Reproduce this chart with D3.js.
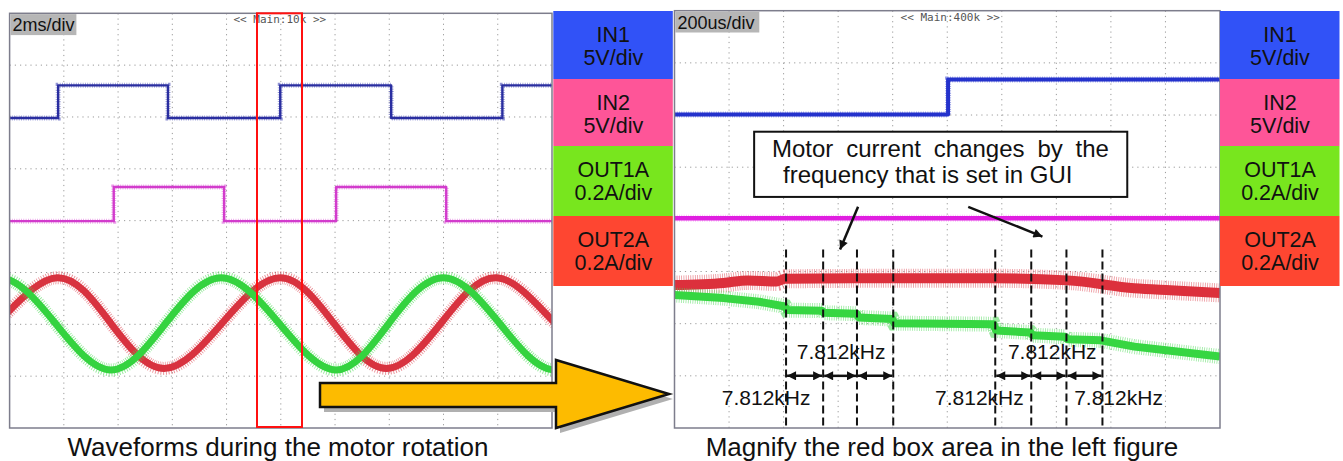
<!DOCTYPE html>
<html>
<head>
<meta charset="utf-8">
<script src="https://cdn.jsdelivr.net/npm/d3@7"></script>
<style>
  body { margin: 0; background: #fff; }
  svg { display: block; font-family: "Liberation Sans", Arial, sans-serif; }
</style>
</head>
<body>
<script>
// ---- values read off the two scope captures ----
// left capture: time in ms (2ms/div, 10 div), level in divisions from the bottom (8 div)
var leftIn1 = [[0, 5.98], [1.79, 6.61], [5.84, 5.98], [9.98, 6.61], [14.07, 5.98], [18.17, 6.61], [20, 6.61]];
var leftIn2 = [[0, 3.99], [3.84, 4.65], [7.91, 3.99], [12.04, 4.65], [16.1, 3.99], [20, 3.99]];
// peaks, troughs and mid crossings of the two motor currents
var leftOut2 = [[-2.5, 1.15], [-0.45, 2.03], [1.75, 2.9], [3.72, 2.03], [5.7, 1.15], [7.85, 2.03], [9.98, 2.9],
                [11.94, 2.03], [13.89, 1.15], [15.92, 2.03], [17.95, 2.9], [20.1, 2.03], [22.1, 1.15]];
var leftOut1 = [[-2.45, 2.03], [-0.4, 2.9], [1.67, 2.03], [3.74, 1.12], [5.77, 2.03], [7.8, 2.9], [9.92, 2.03],
                [12.04, 1.12], [14.0, 2.03], [15.99, 2.9], [18.05, 2.03], [20.1, 1.12], [22.1, 2.03]];

// right capture: time in us (200us/div)
var rightIn1 = [[0, 6.01], [1003, 6.68], [2000, 6.68]];
var rightIn2 = [[0, 4.02], [2000, 4.02]];
var rightOut2 = [[0, 2.74], [180, 2.78], [269, 2.83], [376, 2.81], [405, 2.86], [798, 2.87], [1169, 2.87],
                 [1441, 2.83], [1686, 2.68], [1818, 2.64], [2000, 2.59]];
var rightOut1 = [[0, 2.55], [180, 2.49], [310, 2.42], [405, 2.33], [413, 2.26], [541, 2.25], [547, 2.21],
                 [668, 2.19], [676, 2.12], [798, 2.09], [806, 2.01], [1169, 1.99], [1179, 1.87], [1305, 1.83],
                 [1313, 1.78], [1432, 1.75], [1441, 1.7], [1562, 1.68], [1686, 1.56], [1818, 1.48], [2000, 1.37]];

// PWM period marks (us) and the 7.812kHz labels
var pwmMarks = [409, 545, 669, 802, 1176, 1308, 1437, 1569];
var pwmGroups = [[0, 1, 2, 3], [4, 5, 6, 7]];
var freqText = "7.812kHz";
var freqLabels = [[611, "upper"], [336, "lower"], [1385, "upper"], [1118, "lower"], [1628, "lower"]];

// legend
var channels = ["IN1", "IN2", "OUT1A", "OUT2A"];
var channelScales = ["5V/div", "5V/div", "0.2A/div", "0.2A/div"];
var channelColors = ["#3152f7", "#fe5598", "#78e61e", "#fe4631"];

var captions = ["Waveforms during the motor rotation", "Magnify the red box area in the left figure"];
var annotationLines = ["Motor current changes by the", "frequency that is set in GUI"];

// ---- page ----
var svgWidth = 1343, svgHeight = 461;
var svg = d3.select("body").append("svg")
  .attr("width", svgWidth)
  .attr("height", svgHeight);

var defs = svg.append("defs");

// scales for both captures
var xL = d3.scaleLinear().domain([0, 20]).range([9.6, 552]);
var yL = d3.scaleLinear().domain([0, 8]).range([428, 13.3]);
var xR = d3.scaleLinear().domain([0, 2000]).range([674.5, 1220]);
var yR = d3.scaleLinear().domain([0, 8]).range([428, 10.7]);

function drawScope(id, x, y, label, mainText, labelWidth, mainShift) {
  var g = svg.append("g");
  var x0 = x.range()[0], x1 = x.range()[1], y0 = y.range()[1], y1 = y.range()[0];

  defs.append("clipPath").attr("id", id)
    .append("rect").attr("x", x0).attr("y", y0).attr("width", x1 - x0).attr("height", y1 - y0);

  g.append("rect")
    .attr("x", x0).attr("y", y0).attr("width", x1 - x0).attr("height", y1 - y0)
    .attr("fill", "#fff");

  // dotted division grid
  var xt = x.ticks(10).slice(1, -1);
  var yt = y.ticks(8).slice(1, -1);
  g.selectAll(".vg").data(xt).enter().append("line")
    .attr("x1", d => x(d)).attr("x2", d => x(d))
    .attr("y1", y0).attr("y2", y1)
    .attr("stroke", "#9a9a9a").attr("stroke-width", 1).attr("stroke-dasharray", "1.2,4");
  g.selectAll(".hg").data(yt).enter().append("line")
    .attr("x1", x0).attr("x2", x1)
    .attr("y1", d => y(d)).attr("y2", d => y(d))
    .attr("stroke", "#9a9a9a").attr("stroke-width", 1).attr("stroke-dasharray", "1.2,4");

  g.append("text")
    .attr("x", (x0 + x1) / 2 + mainShift).attr("y", y0 + 10)
    .attr("text-anchor", "middle")
    .attr("font-family", "DejaVu Sans Mono, monospace")
    .attr("font-size", 11).attr("fill", "#555")
    .text(mainText);

  var traces = g.append("g").attr("clip-path", "url(#" + id + ")");

  g.append("rect")
    .attr("x", x0).attr("y", y0).attr("width", x1 - x0).attr("height", y1 - y0)
    .attr("fill", "none").attr("stroke", "#7d7d8c").attr("stroke-width", 1.5);

  g.append("rect")
    .attr("x", x0 + 0.8).attr("y", y0 + 0.8).attr("width", labelWidth).attr("height", 21)
    .attr("fill", "#b6b6b6");
  g.append("text")
    .attr("x", x0 + 3).attr("y", y0 + 18)
    .attr("font-size", 18).attr("fill", "#111")
    .text(label);

  return traces;
}

function trace(g, data, x, y, curve, color, width, fuzzColor, fuzzWidth) {
  var line = d3.line().x(d => x(d[0])).y(d => y(d[1])).curve(curve);
  if (fuzzWidth) {
    g.append("path").datum(data).attr("d", line)
      .attr("fill", "none").attr("stroke", fuzzColor).attr("stroke-width", fuzzWidth)
      .attr("stroke-dasharray", "0.8,1.5").attr("opacity", 0.6);
  }
  g.append("path").datum(data).attr("d", line)
    .attr("fill", "none").attr("stroke", color).attr("stroke-width", width)
    .attr("stroke-linejoin", "round");
}

// left capture
var tl = drawScope("clipL", xL, yL, "2ms/div", "<< Main:10k >>", 66, -1);
trace(tl, leftIn1, xL, yL, d3.curveStepAfter, "#2a2ea0", 2.4, "#4a4eb8", 5);
trace(tl, leftIn2, xL, yL, d3.curveStepAfter, "#d23ccc", 2.4, "#dc5cd8", 5);
trace(tl, leftOut2, xL, yL, d3.curveNatural, "#d8323f", 7, "#dc4450", 13);
trace(tl, leftOut1, xL, yL, d3.curveNatural, "#34d33f", 7, "#48d852", 13);

// right capture
var tr = drawScope("clipR", xR, yR, "200us/div", "<< Main:400k >>", 84, 3);
trace(tr, rightIn1, xR, yR, d3.curveStepAfter, "#2432cc", 4, "#4854d4", 6);
trace(tr, rightIn2, xR, yR, d3.curveLinear, "#e01ee0", 4.5, "#f080f0", 7);
trace(tr, rightOut2, xR, yR, d3.curveMonotoneX, "#dc303c", 10, "#e04c58", 19);
trace(tr, rightOut1, xR, yR, d3.curveLinear, "#36d642", 8, "#52dc5c", 15);

// red box marking the magnified area
svg.append("rect")
  .attr("x", 257).attr("y", yL(8)).attr("width", 45).attr("height", yL(0) - yL(8) - 1)
  .attr("fill", "none").attr("stroke", "#ff1010").attr("stroke-width", 2);

// PWM period marks
var ann = svg.append("g");
ann.selectAll(".pwm").data(pwmMarks).enter().append("line")
  .attr("x1", d => xR(d)).attr("x2", d => xR(d))
  .attr("y1", yR(3.42)).attr("y2", yR(0))
  .attr("stroke", "#111").attr("stroke-width", 2).attr("stroke-dasharray", "8,4");

defs.append("marker").attr("id", "head").attr("viewBox", "0 0 10 10")
  .attr("refX", 10).attr("refY", 5).attr("markerWidth", 10).attr("markerHeight", 9)
  .attr("markerUnits", "userSpaceOnUse").attr("orient", "auto-start-reverse")
  .append("path").attr("d", "M0,0 L10,5 L0,10 z").attr("fill", "#111");

var spans = [];
pwmGroups.forEach(function(grp) {
  for (var i = 0; i < grp.length - 1; i++) spans.push([pwmMarks[grp[i]], pwmMarks[grp[i + 1]]]);
});
ann.selectAll(".span").data(spans).enter().append("line")
  .attr("x1", d => xR(d[0]) + 1).attr("x2", d => xR(d[1]) - 1)
  .attr("y1", yR(1)).attr("y2", yR(1))
  .attr("stroke", "#111").attr("stroke-width", 2.5)
  .attr("marker-start", "url(#head)").attr("marker-end", "url(#head)");

ann.selectAll(".freq").data(freqLabels).enter().append("text")
  .attr("x", d => xR(d[0]))
  .attr("y", d => d[1] == "upper" ? yR(1.32) : yR(0.44))
  .attr("text-anchor", "middle")
  .attr("font-size", 21).attr("fill", "#111")
  .text(freqText);

// annotation box and its pointers
ann.append("rect")
  .attr("x", xR(292)).attr("y", yR(5.68))
  .attr("width", xR(1660) - xR(292)).attr("height", yR(4.43) - yR(5.68))
  .attr("fill", "#fff").attr("stroke", "#111").attr("stroke-width", 2);
ann.append("text")
  .attr("x", 772).attr("y", 157)
  .attr("font-size", 24).attr("fill", "#111").style("word-spacing", "6.2px")
  .text(annotationLines[0]);
ann.append("text")
  .attr("x", 783).attr("y", 183)
  .attr("font-size", 24).attr("fill", "#111")
  .text(annotationLines[1]);

var pointers = [[[673, 4.24], [607, 3.42]], [[1077, 4.24], [1349, 3.67]]];
ann.selectAll(".ptr").data(pointers).enter().append("line")
  .attr("x1", d => xR(d[0][0])).attr("y1", d => yR(d[0][1]))
  .attr("x2", d => xR(d[1][0])).attr("y2", d => yR(d[1][1]))
  .attr("stroke", "#111").attr("stroke-width", 2.5)
  .attr("marker-end", "url(#head)");

// legends
function drawLegend(x0) {
  var tops = [11, 79, 146, 216, 286];
  var lg = svg.append("g");
  channels.forEach(function(name, i) {
    lg.append("rect")
      .attr("x", x0).attr("y", tops[i]).attr("width", 119.5).attr("height", tops[i + 1] - tops[i])
      .attr("fill", channelColors[i]);
    lg.append("text")
      .attr("x", x0 + 60).attr("y", tops[i] + 31)
      .attr("text-anchor", "middle").attr("font-size", 21.5).attr("fill", "#111")
      .text(name);
    lg.append("text")
      .attr("x", x0 + 60).attr("y", tops[i] + 54)
      .attr("text-anchor", "middle").attr("font-size", 21.5).attr("fill", "#111")
      .text(channelScales[i]);
  });
}
drawLegend(553.3);
drawLegend(1220);

// big yellow arrow from the left capture to the right one
var arrowPts = [[320, 383], [556, 383], [556, 360], [669, 394], [556, 428], [556, 407], [320, 407]];
svg.append("polygon")
  .attr("points", arrowPts.map(p => (p[0] + 4) + "," + (p[1] + 5)).join(" "))
  .attr("fill", "#b0b0b0");
svg.append("polygon")
  .attr("points", arrowPts.map(p => p.join(",")).join(" "))
  .attr("fill", "#fdbb00").attr("stroke", "#111").attr("stroke-width", 2.5)
  .attr("stroke-linejoin", "miter");

// captions
svg.selectAll(".cap").data(captions).enter().append("text")
  .attr("x", (d, i) => i == 0 ? 278 : 942)
  .attr("y", 456)
  .attr("text-anchor", "middle").attr("font-size", 26).attr("fill", "#111")
  .text(d => d);
</script>
</body>
</html>
